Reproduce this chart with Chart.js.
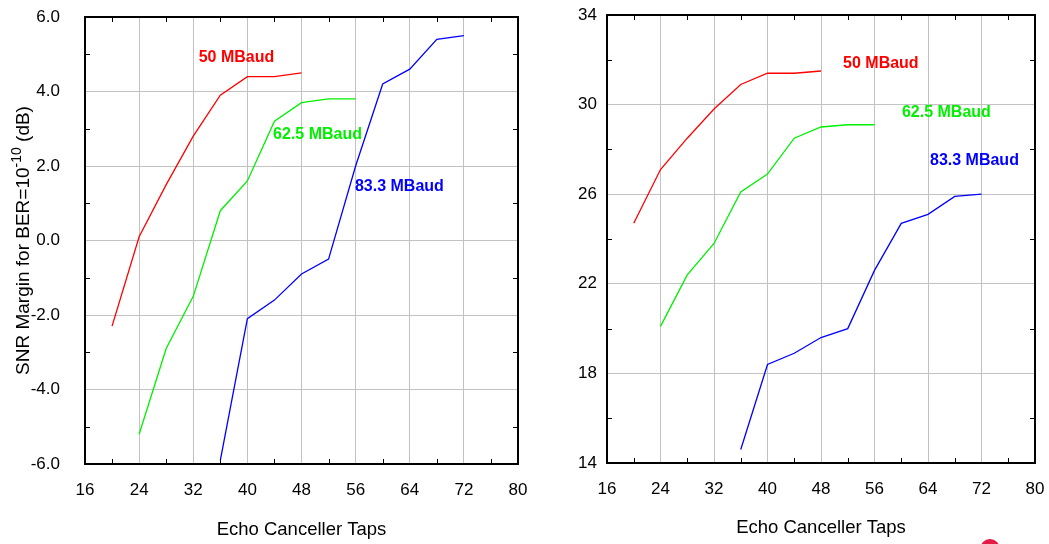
<!DOCTYPE html>
<html>
<head>
<meta charset="utf-8">
<script src="https://cdn.jsdelivr.net/npm/chart.js@4/dist/chart.umd.min.js"></script>
<style>
    body { margin: 0; background: #fff; }
    #wrap { position: relative; width: 1049px; height: 544px; overflow: hidden; }
    .box { position: absolute; top: 0; height: 544px; }
    #leftbox { left: 0; width: 530px; }
    #rightbox { left: 530px; width: 519px; }
    #logo { position: absolute; left: 980px; top: 539px; width: 20px; height: 20px; border-radius: 50%; background: #e31b45; }
</style>
</head>
<body>
<div id="wrap">
    <div class="box" id="leftbox"><canvas id="marginchart"></canvas></div>
    <div class="box" id="rightbox"><canvas id="snrchart"></canvas></div>
    <div id="logo"></div>
</div>
<script>
// echo canceller taps for each baud rate
const taps50 = [20, 24, 28, 32, 36, 40, 44, 48];
const taps625 = [24, 28, 32, 36, 40, 44, 48, 52, 56];
const taps833 = [36, 40, 44, 48, 52, 56, 60, 64, 68, 72];

// SNR margin for BER=1e-10 (dB)
const margin50 = [-2.3, 0.1, 1.5, 2.8, 3.9, 4.4, 4.4, 4.5];
const margin625 = [-5.2, -2.9, -1.5, 0.8, 1.6, 3.2, 3.7, 3.8, 3.8];
const margin833 = [-5.9, -2.1, -1.6, -0.9, -0.5, 2.0, 4.2, 4.6, 5.4, 5.5];

// SNR (dB)
const snr50 = [24.7, 27.1, 28.5, 29.8, 30.9, 31.4, 31.4, 31.5];
const snr625 = [20.1, 22.4, 23.8, 26.1, 26.9, 28.5, 29.0, 29.1, 29.1];
const snr833 = [14.6, 18.4, 18.9, 19.6, 20.0, 22.6, 24.7, 25.1, 25.9, 26.0];

const seriesNames = ['50 MBaud', '62.5 MBaud', '83.3 MBaud'];
const seriesColors = ['#ff0000', '#00f000', '#0000ff'];

const FONT = "'Liberation Sans', Arial, sans-serif";

function pts(xs, ys) {
    return xs.map(function (x, i) { return { x: x, y: ys[i] }; });
}

function makeSets(a, b, c) {
    return [pts(taps50, a), pts(taps625, b), pts(taps833, c)].map(function (d, i) {
        return {
            label: seriesNames[i],
            data: d,
            borderColor: seriesColors[i],
            borderWidth: 1.3,
            pointRadius: 0,
            tension: 0,
            fill: false
        };
    });
}

function noPad(s) {
    s.paddingTop = 0;
    s.paddingBottom = 0;
    s.paddingLeft = 0;
    s.paddingRight = 0;
}

// box around the plot, small minor ticks, titles and in-plot labels
const framePlugin = {
    id: 'frame',
    afterDraw(chart, args, opts) {
        const { ctx, chartArea: { left, top, right, bottom }, scales: { x, y } } = chart;
        ctx.save();
        ctx.strokeStyle = '#000';
        ctx.lineWidth = 2;
        ctx.strokeRect(left, top, right - left, bottom - top);

        ctx.lineWidth = 1;
        ctx.beginPath();
        for (let v = x.min + 4; v < x.max; v += 8) {
            const px = Math.round(x.getPixelForValue(v)) + 0.5;
            ctx.moveTo(px, bottom); ctx.lineTo(px, bottom - 5);
            ctx.moveTo(px, top); ctx.lineTo(px, top + 5);
        }
        for (let v = y.min + opts.minorY; v < y.max; v += opts.minorY * 2) {
            const py = Math.round(y.getPixelForValue(v)) + 0.5;
            ctx.moveTo(left, py); ctx.lineTo(left + 5, py);
            ctx.moveTo(right, py); ctx.lineTo(right - 5, py);
        }
        ctx.stroke();

        // series labels
        ctx.font = 'bold 16px ' + FONT;
        ctx.textAlign = 'left';
        ctx.textBaseline = 'middle';
        opts.labels.forEach(function (l, i) {
            ctx.fillStyle = seriesColors[i];
            ctx.fillText(seriesNames[i], x.getPixelForValue(l[0]), y.getPixelForValue(l[1]));
        });

        // x title
        ctx.fillStyle = '#000';
        ctx.font = '18.5px ' + FONT;
        ctx.textAlign = 'center';
        ctx.fillText('Echo Canceller Taps', (left + right) / 2, opts.xTitleY);

        // y title, may have a superscript part
        ctx.translate(opts.yTitleX, (top + bottom) / 2);
        ctx.rotate(-Math.PI / 2);
        ctx.textAlign = 'left';
        const parts = opts.yTitle;
        let total = 0;
        parts.forEach(function (p) {
            ctx.font = (p.sup ? '14px ' : '19px ') + FONT;
            total += ctx.measureText(p.t).width;
        });
        let cx = -total / 2;
        parts.forEach(function (p) {
            ctx.font = (p.sup ? '14px ' : '19px ') + FONT;
            ctx.fillText(p.t, cx, p.sup ? -7 : 0);
            cx += ctx.measureText(p.t).width;
        });
        ctx.restore();
    }
};

function makeChart(id, sets, yMin, yMax, yStep, yPad, yWidth, padRight, padTop, xHeight, frameOpts, fmt) {
    return new Chart(document.getElementById(id), {
        type: 'line',
        data: { datasets: sets },
        options: {
            responsive: true,
            maintainAspectRatio: false,
            animation: false,
            layout: { padding: { top: padTop, right: padRight, left: 0, bottom: 0 } },
            scales: {
                x: {
                    type: 'linear',
                    min: 16,
                    max: 80,
                    afterFit(s) { s.height = xHeight; noPad(s); },
                    ticks: { stepSize: 8, padding: 16, color: '#000', font: { family: FONT, size: 17 } },
                    grid: { color: '#c2c2c2', lineWidth: 1, drawTicks: false },
                    border: { display: true, color: '#000', width: 2 }
                },
                y: {
                    min: yMin,
                    max: yMax,
                    afterFit(s) { s.width = yWidth; noPad(s); },
                    ticks: {
                        stepSize: yStep,
                        padding: yPad,
                        color: '#000',
                        font: { family: FONT, size: 17 },
                        callback: fmt
                    },
                    grid: { color: '#c2c2c2', lineWidth: 1, drawTicks: false },
                    border: { display: true, color: '#000', width: 2 }
                }
            },
            plugins: {
                legend: { display: false },
                tooltip: { enabled: false },
                frame: frameOpts
            }
        },
        plugins: [framePlugin]
    });
}

makeChart('marginchart', makeSets(margin50, margin625, margin833), -6, 6, 2, 25, 85, 12, 17, 80, {
    minorY: 1,
    labels: [[32.8, 4.9], [43.8, 2.83], [55.9, 1.44]],
    xTitleY: 530,
    yTitleX: 24,
    yTitle: [{ t: 'SNR Margin for BER=10' }, { t: '-10', sup: true }, { t: ' (dB)' }]
}, function (v) { return v.toFixed(1); });

makeChart('snrchart', makeSets(snr50, snr625, snr833), 14, 34, 4, 10, 77, 14, 15, 81, {
    minorY: 2,
    labels: [[51.3, 31.85], [60.1, 29.64], [64.3, 27.5]],
    xTitleY: 528,
    yTitleX: 565,
    yTitle: [{ t: 'SNR (dB)' }]
}, function (v) { return v; });
</script>
</body>
</html>
